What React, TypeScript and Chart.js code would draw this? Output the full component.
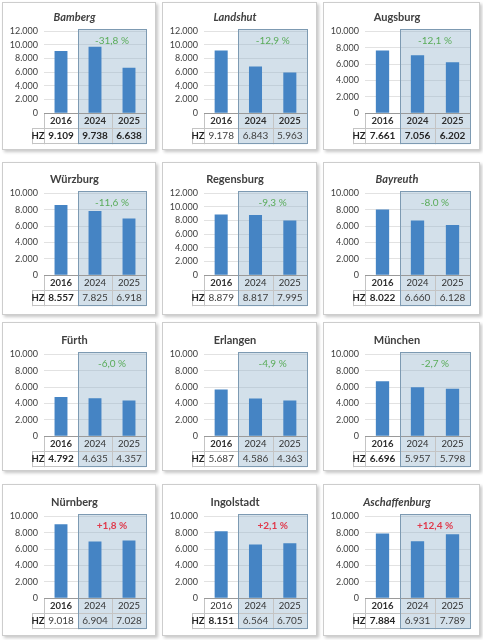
import React, { useEffect, useRef } from 'react';
import { Chart, registerables } from 'chart.js';

Chart.register(...registerables);

// ---- data ----
const years = ['2016', '2024', '2025'];
const cities = [
  'Bamberg', 'Landshut', 'Augsburg',
  'Würzburg', 'Regensburg', 'Bayreuth',
  'Fürth', 'Erlangen', 'München',
  'Nürnberg', 'Ingolstadt', 'Aschaffenburg',
];
const hz2016 = [9109, 9178, 7661, 8557, 8879, 8022, 4792, 5687, 6696, 9018, 8151, 7884];
const hz2024 = [9738, 6843, 7056, 7825, 8817, 6660, 4635, 4586, 5957, 6904, 6564, 6931];
const hz2025 = [6638, 5963, 6202, 6918, 7995, 6128, 4357, 4363, 5798, 7028, 6705, 7789];
const changeLabels = [
  '-31,8 %', '-12,9 %', '-12,1 %',
  '-11,6 %', '-9,3 %', '-8.0 %',
  '-6,0 %', '-4,9 %', '-2,7 %',
  '+1,8 %', '+2,1 %', '+12,4 %',
];
const axisMax = [12000, 12000, 10000, 10000, 12000, 10000, 10000, 10000, 10000, 10000, 10000, 10000];
const axisStep = 2000;
const rowLabel = 'HZ';

// ---- styles ----
const FONT = 'Lato, "Noto Sans", sans-serif';
const italicTitle = [true, true, false, false, false, true, false, false, false, false, false, true];
const boldYear = [
  [1, 1, 1], [1, 1, 1], [1, 1, 1],
  [1, 0, 0], [1, 0, 0], [1, 0, 0],
  [1, 0, 0], [1, 0, 0], [1, 0, 0],
  [1, 0, 0], [0, 0, 0], [1, 0, 0],
];
const boldValue = [
  [1, 1, 1], [0, 0, 0], [1, 1, 1],
  [1, 0, 0], [0, 0, 0], [1, 0, 0],
  [1, 0, 0], [0, 0, 0], [1, 0, 0],
  [0, 0, 0], [1, 0, 0], [1, 0, 0],
];
const colLeft = [2, 162, 323];
const colWidth = [154, 155, 157];
const rowTop = [2, 162, 322, 484];
const rowHeight = [148, 153, 149, 152];
const rowPadTop = [1, 3, 4, 4];

const fmt = (n: number) => String(n).replace(/\B(?=(\d{3})+(?!\d))/g, '.');

const TABLE_ROW1 = 15;
const TABLE_ROW2 = 16;
const PLOT_H = 82;
const TITLE_H = 27.2;

function makeTablePlugin(i: number) {
  return {
    id: 'hzTable' + i,
    beforeDatasetsDraw(chart: any) {
      const { ctx, chartArea } = chart;
      const xs = chart.scales.x;
      const x0 = xs.getPixelForValue(0.5);
      const bottom = chartArea.bottom + TABLE_ROW1 + TABLE_ROW2;
      ctx.save();
      ctx.fillStyle = 'rgba(150,182,205,0.42)';
      ctx.fillRect(x0, chartArea.top - 2, chartArea.right - x0, bottom - chartArea.top + 2);
      ctx.restore();
    },
    afterDatasetsDraw(chart: any) {
      const { ctx, chartArea } = chart;
      const xs = chart.scales.x;
      const b = chartArea.bottom;
      const left = chartArea.left;
      const right = chartArea.right;
      const hzLeft = left - 12;
      const y1 = b + TABLE_ROW1;
      const y2 = y1 + TABLE_ROW2;
      const bounds = [-0.5, 0.5, 1.5, 2.5].map((v) => Math.round(xs.getPixelForValue(v)) + 0.5);
      ctx.save();
      // table grid
      ctx.strokeStyle = '#c4c4c4';
      ctx.lineWidth = 1;
      ctx.beginPath();
      ctx.moveTo(left, Math.round(y1) + 0.5);
      ctx.lineTo(right, Math.round(y1) + 0.5);
      ctx.moveTo(hzLeft, Math.round(y1) + 0.5);
      ctx.lineTo(left, Math.round(y1) + 0.5);
      ctx.moveTo(hzLeft, Math.round(y2) - 0.5);
      ctx.lineTo(bounds[1], Math.round(y2) - 0.5);
      bounds.forEach((bx, k) => {
        if (k === 3) return;
        ctx.moveTo(bx, b);
        ctx.lineTo(bx, y2);
      });
      ctx.moveTo(Math.round(hzLeft) + 0.5, y1);
      ctx.lineTo(Math.round(hzLeft) + 0.5, y2);
      ctx.stroke();
      // axis line
      ctx.strokeStyle = '#9a9a9a';
      ctx.beginPath();
      ctx.moveTo(left, Math.round(b) + 0.5);
      ctx.lineTo(right, Math.round(b) + 0.5);
      ctx.stroke();
      // shaded box border
      const x0 = bounds[1];
      ctx.strokeStyle = '#7d9ab2';
      ctx.strokeRect(x0, Math.round(chartArea.top) - 1.5, Math.round(right) - x0 + 0.5, Math.round(y2) - Math.round(chartArea.top) + 1);
      // texts
      ctx.textAlign = 'center';
      ctx.textBaseline = 'middle';
      chart.data.labels.forEach((lab: string, k: number) => {
        const cx = xs.getPixelForValue(k);
        ctx.fillStyle = '#303030';
        ctx.font = `${boldYear[i][k] ? 'bold ' : ''}9.5px ${FONT}`;
        ctx.fillText(lab, cx, b + TABLE_ROW1 / 2 + 0.5);
        ctx.fillStyle = boldValue[i][k] ? '#262626' : '#404040';
        ctx.font = `${boldValue[i][k] ? 'bold ' : ''}10px ${FONT}`;
        ctx.fillText(fmt(chart.data.datasets[0].data[k]), cx, y1 + TABLE_ROW2 / 2);
      });
      ctx.fillStyle = '#262626';
      ctx.font = `bold 9.5px ${FONT}`;
      ctx.fillText(rowLabel, (hzLeft + left) / 2, y1 + TABLE_ROW2 / 2);
      // change label
      const positive = changeLabels[i].startsWith('+');
      ctx.fillStyle = positive ? '#e0394b' : '#5aac5a';
      ctx.font = `${positive ? 'bold ' : ''}10px ${FONT}`;
      ctx.fillText(changeLabels[i], xs.getPixelForValue(1.5), chartArea.top + 10);
      ctx.restore();
    },
  };
}

function Panel({ i }: { i: number }) {
  const ref = useRef<HTMLCanvasElement | null>(null);
  const col = i % 3;
  const row = Math.floor(i / 3);
  const w = colWidth[col];
  const h = rowHeight[row];
  const cw = w - 2;
  const ch = h - 2;
  const padTop = rowPadTop[row];
  const padBottom = ch - TITLE_H - padTop - PLOT_H;

  useEffect(() => {
    if (!ref.current) return;
    const chart = new Chart(ref.current, {
      type: 'bar',
      data: {
        labels: years,
        datasets: [
          {
            data: [hz2016[i], hz2024[i], hz2025[i]],
            backgroundColor: '#4584c4',
            barPercentage: 0.38,
            categoryPercentage: 1,
          },
        ],
      },
      options: {
        responsive: false,
        animation: false,
        layout: { padding: { top: padTop, bottom: padBottom, left: 0, right: 9 } },
        plugins: {
          legend: { display: false },
          tooltip: { enabled: false },
          title: {
            display: true,
            text: cities[i],
            color: '#404040',
            font: { family: FONT, size: 11, weight: 'bold', style: italicTitle[i] ? 'italic' : 'normal', lineHeight: 1.2 },
            padding: { top: 7, bottom: 7 },
          },
        },
        scales: {
          x: { display: false },
          y: {
            min: 0,
            max: axisMax[i],
            ticks: {
              stepSize: axisStep,
              autoSkip: false,
              color: '#404040',
              font: { family: FONT, size: 9 },
              padding: 6,
              callback: (v: any) => fmt(Number(v)),
            },
            grid: { color: '#e2e2e2', drawTicks: false },
            border: { display: false },
            afterFit: (s: any) => {
              s.width = 41;
            },
          },
        },
      } as any,
      plugins: [makeTablePlugin(i)],
    });
    return () => chart.destroy();
  }, [i]);

  return (
    <div
      style={{
        position: 'absolute',
        left: colLeft[col],
        top: rowTop[row],
        width: w,
        height: h,
        boxSizing: 'border-box',
        border: '1px solid #cdcdcd',
        boxShadow: '2px 2px 3px rgba(0,0,0,0.22)',
        background: '#fff',
      }}
    >
      <canvas ref={ref} width={cw} height={ch} style={{ display: 'block', width: cw, height: ch }} />
    </div>
  );
}

export default function App() {
  return (
    <div style={{ position: 'absolute', left: 0, top: 0, width: 483, height: 640, background: '#fff', overflow: 'hidden' }}>
      {cities.map((_, i) => (
        <Panel key={i} i={i} />
      ))}
    </div>
  );
}
